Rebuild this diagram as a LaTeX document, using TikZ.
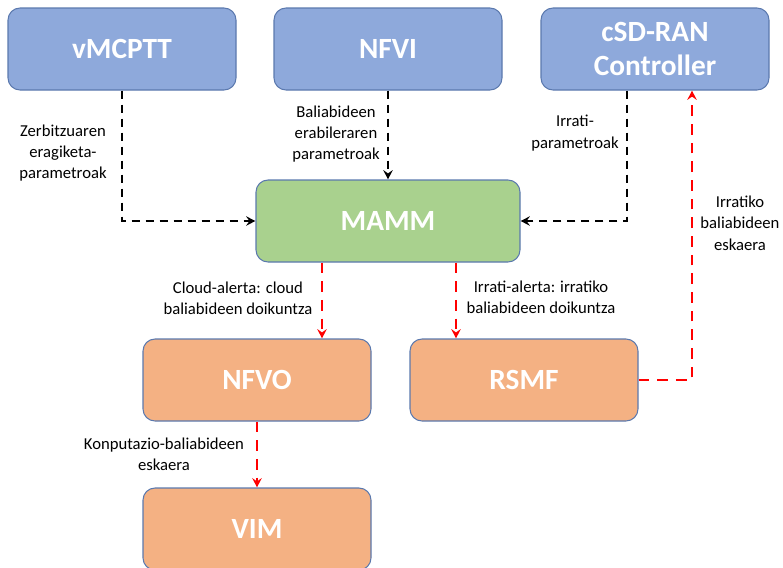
\documentclass[tikz,border=0pt]{standalone}
\usepackage{fontspec}
\setmainfont{Carlito}
\usetikzlibrary{arrows.meta, positioning}

\definecolor{boxblue}{HTML}{8EA9DB}
\definecolor{boxgreen}{HTML}{A9D18E}
\definecolor{boxorange}{HTML}{F4B183}
\definecolor{boxline}{HTML}{5B79AE}
\definecolor{alertred}{HTML}{FF0000}

\tikzset{
  blok/.style={draw=boxline, line width=0.8pt, rounded corners=9pt,
    minimum width=171pt, minimum height=61.5pt, text=white,
    font=\fontsize{22}{26}\selectfont\bfseries, align=center},
  bluebox/.style={blok, fill=boxblue},
  greenbox/.style={blok, fill=boxgreen, minimum width=198pt},
  orangebox/.style={blok, fill=boxorange},
  etiketa/.style={align=center, font=\fontsize{12.5}{16}\selectfont},
  blackflow/.style={line width=1.9pt, black, dash pattern=on 6pt off 4.5pt,
    -{Stealth[length=7pt, width=7pt, inset=2.5pt]}},
  redflow/.style={line width=1.9pt, alertred, dash pattern=on 8pt off 6pt,
    -{Stealth[length=7pt, width=7pt, inset=2.5pt]}}
}

\begin{document}
\begin{tikzpicture}[x=0.75pt, y=-0.75pt]
\useasboundingbox (0,0) rectangle (783,568);

% goiko blokeak
\node[bluebox] (vmcptt) at (122,49) {vMCPTT};
\node[bluebox] (nfvi) at (388,49) {NFVI};
\node[bluebox] (csdran) at (655,49) {cSD-RAN\\Controller};
% monitorizazioa
\node[greenbox] (mamm) at (388,221) {MAMM};
% orkestrazioa
\node[orangebox] (nfvo) at (257,380) {NFVO};
\node[orangebox] (rsmf) at (524,380) {RSMF};
\node[orangebox] (vim) at (257,529) {VIM};

% parametroak MAMM-era
\draw[blackflow] (vmcptt.south) |- (mamm.west);
\draw[blackflow] (nfvi.south) -- (mamm.north);
\draw[blackflow] ([xshift=-21pt]csdran.south) |- (mamm.east);

% alertak eta eskaerak
\draw[redflow] ([xshift=-49.5pt]mamm.south) -- ([xshift=-49.5pt]mamm.south |- nfvo.north);
\draw[redflow] ([xshift=51pt]mamm.south) -- ([xshift=51pt]mamm.south |- rsmf.north);
\draw[redflow] (nfvo.south) -- (vim.north);
\draw[redflow] (rsmf.east) -| ([xshift=27.75pt]csdran.south);

% etiketak
\node[etiketa] (lzerb) at (63,153) {Zerbitzuaren\\eragiketa-\\parametroak};
\node[etiketa] (lbali) at (336,134) {Baliabideen\\erabileraren\\parametroak};
\node[etiketa] (lirra) at (575,133) {Irrati-\\parametroak};
\node[etiketa] (lesk) at (740,223) {Irratiko\\baliabideen\\eskaera};
\node[etiketa] (lcloud) at (238,298) {Cloud-alerta: cloud\\baliabideen doikuntza};
\node[etiketa] (lradio) at (541,297) {Irrati-alerta: irratiko\\baliabideen doikuntza};
\node[etiketa] (lkonp) at (164,454) {Konputazio-baliabideen\\eskaera};
\end{tikzpicture}
\end{document}
